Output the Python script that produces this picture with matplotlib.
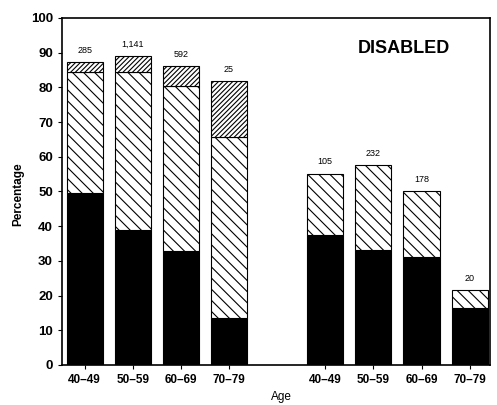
import matplotlib
matplotlib.use("Agg")
import matplotlib.pyplot as plt

plt.rcParams['font.family'] = ['Liberation Sans', 'DejaVu Sans']
plt.rcParams['hatch.linewidth'] = 0.8

categories = ["40–49", "50–59", "60–69", "70–79", "40–49", "50–59", "60–69", "70–79"]
positions = [0, 1, 2, 3, 5, 6, 7, 8]
black_vals = [49.5, 39, 32.7, 13.4, 37.5, 33, 31, 16.5]
mid_tops = [84.4, 84.3, 80.3, 65.6, 55, 57.5, 50, 21.5]
top_tops = [87.2, 89, 86, 81.7, 55, 57.5, 50, 21.5]
counts = ["285", "1,141", "592", "25", "105", "232", "178", "20"]

fig = plt.figure(figsize=(4.97, 4.05), dpi=100)
ax = fig.add_axes([0.1247, 0.0988, 0.861, 0.857])

w = 0.75
mid_h = [m - b for m, b in zip(mid_tops, black_vals)]
top_h = [t - m for t, m in zip(top_tops, mid_tops)]
ax.bar(positions, black_vals, width=w, color='black', edgecolor='black', linewidth=0.8)
ax.bar(positions, mid_h, bottom=black_vals, width=w, color='white', edgecolor='black',
       hatch='\\\\\\', linewidth=0.8)
for p, h, m in zip(positions, top_h, mid_tops):
    if h > 0:
        ax.bar(p, h, bottom=m, width=w, color='white', edgecolor='black', hatch='///////', linewidth=0.8)
for p, t, c in zip(positions, top_tops, counts):
    ax.text(p, t + 2.2, c, ha='center', va='bottom', fontsize=6.5)

ax.set_xlim(-0.47, 8.42)
ax.set_ylim(0, 100)
ax.set_yticks(range(0, 101, 10))
ax.set_xticks(positions)
ax.set_xticklabels(categories)
for lab in ax.get_xticklabels():
    lab.set_fontweight('bold')
    lab.set_fontsize(8.5)
for lab in ax.get_yticklabels():
    lab.set_fontweight('bold')
    lab.set_fontsize(9.5)
ax.tick_params(direction='out', length=3, width=0.8)
for s in ax.spines.values():
    s.set_linewidth(1.2)

ax.text(0.80, 0.913, "DISABLED", transform=ax.transAxes, ha='center', va='center',
        fontsize=13, fontweight='bold')
fig.text(0.036, 0.52, "Percentage", rotation=90, ha='center', va='center', fontsize=8.5, fontweight='bold')
fig.text(0.567, 0.02, "Age", ha='center', va='center', fontsize=8.5)

fig.savefig("out.png", dpi=100)
